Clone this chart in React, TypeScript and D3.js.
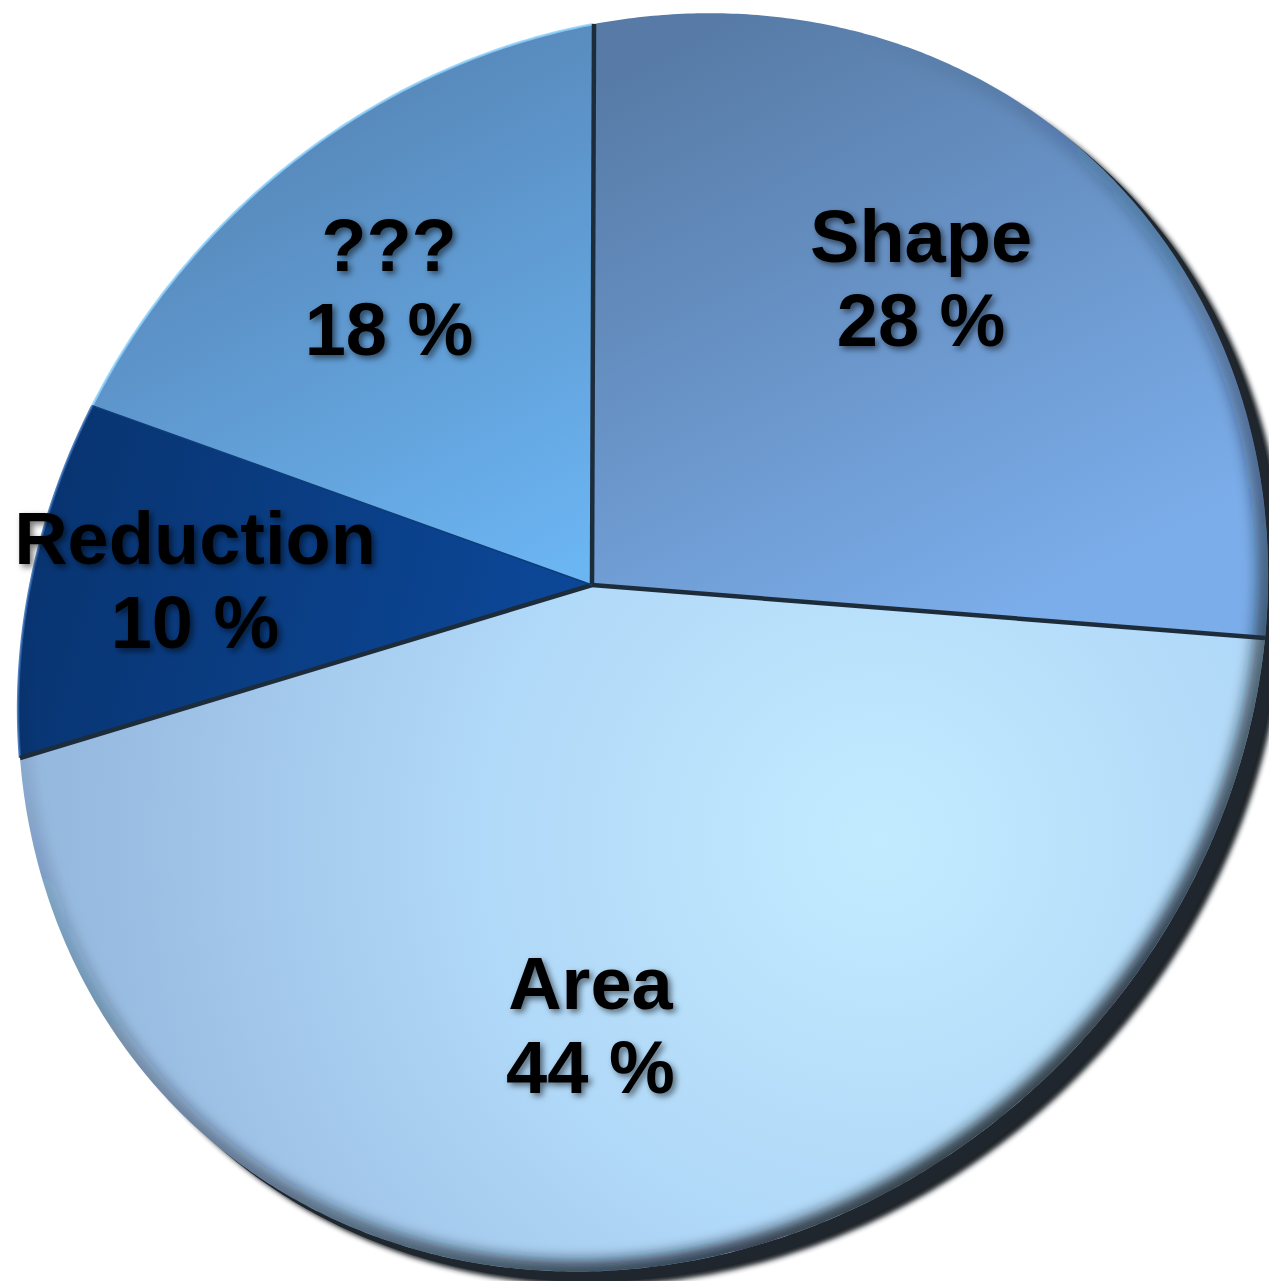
import React from 'react';
import * as d3 from 'd3';

// ---- data ----
const categories = ['Shape', 'Area', 'Reduction', '???'];
const values = [28, 44, 10, 18];
const percentLabels = ['28 %', '44 %', '10 %', '18 %'];

// ---- layout ----
const W = 1269;
const H = 1281;
// where key points of the tilted disc land on the page (perspective anchors)
const PAGE_CENTER: [number, number] = [592, 585];
const PAGE_TOP: [number, number] = [594, 24];
const PAGE_B1: [number, number] = [1265, 638]; // end of first slice
const PAGE_B2: [number, number] = [20, 758]; // end of second slice
const LABEL_RADII = [0.69, 0.664, 0.69, 0.67];
const FONT_SIZE = 74;

function solveHomography(src: [number, number][], dst: [number, number][]) {
  const A: number[][] = [];
  const b: number[] = [];
  for (let i = 0; i < 4; i++) {
    const [x, y] = src[i];
    const [u, v] = dst[i];
    A.push([x, y, 1, 0, 0, 0, -x * u, -y * u]);
    b.push(u);
    A.push([0, 0, 0, x, y, 1, -x * v, -y * v]);
    b.push(v);
  }
  const n = 8;
  for (let c = 0; c < n; c++) {
    let p = c;
    for (let r = c + 1; r < n; r++) if (Math.abs(A[r][c]) > Math.abs(A[p][c])) p = r;
    [A[c], A[p]] = [A[p], A[c]];
    [b[c], b[p]] = [b[p], b[c]];
    for (let r = 0; r < n; r++) {
      if (r === c) continue;
      const f = A[r][c] / A[c][c];
      for (let k = c; k < n; k++) A[r][k] -= f * A[c][k];
      b[r] -= f * b[c];
    }
  }
  const h = b.map((v, i) => v / A[i][i]);
  return (x: number, y: number): [number, number] => {
    const w = h[6] * x + h[7] * y + 1;
    return [(h[0] * x + h[1] * y + h[2]) / w, (h[3] * x + h[4] * y + h[5]) / w];
  };
}

const unit = (a: number, r = 1): [number, number] => [Math.sin(a) * r, -Math.cos(a) * r];

const fills = ['url(#gShape)', 'url(#gArea)', 'url(#gRed)', 'url(#gQ)'];
const edgeColors = ['none', 'none', '#2a63ad', '#8ad0fb'];

export default function App() {
  const arcs = d3.pie<number>().sort(null).startAngle(0).endAngle(2 * Math.PI)(values);

  const proj = solveHomography(
    [[0, 0], unit(arcs[0].startAngle), unit(arcs[0].endAngle), unit(arcs[1].endAngle)],
    [PAGE_CENTER, PAGE_TOP, PAGE_B1, PAGE_B2]
  );
  const P = (a: number, r = 1) => {
    const [x, y] = unit(a, r);
    return proj(x, y);
  };

  const line = d3.line<[number, number]>();
  const step = Math.PI / 360;

  const arcPts = (a0: number, a1: number) => {
    const n = Math.max(2, Math.ceil((a1 - a0) / step));
    return d3.range(0, n + 1).map((i) => P(a0 + ((a1 - a0) * i) / n));
  };
  const slicePath = (a0: number, a1: number) => line([proj(0, 0), ...arcPts(a0, a1)]) + 'Z';
  const circlePath = line(arcPts(0, 2 * Math.PI)) + 'Z';

  return (
    <svg width={W} height={H} style={{ position: 'absolute', left: 0, top: 0, background: '#fff' }}>
      <defs>
        <linearGradient id="gShape" gradientUnits="userSpaceOnUse" x1={700} y1={30} x2={1000} y2={620}>
          <stop offset="0" stopColor="#577ba6" />
          <stop offset="1" stopColor="#7badea" />
        </linearGradient>
        <linearGradient id="gQ" gradientUnits="userSpaceOnUse" x1={300} y1={80} x2={560} y2={570}>
          <stop offset="0" stopColor="#5685b6" />
          <stop offset="1" stopColor="#6bb5f3" />
        </linearGradient>
        <linearGradient id="gRed" gradientUnits="userSpaceOnUse" x1={30} y1={450} x2={560} y2={600}>
          <stop offset="0" stopColor="#08336f" />
          <stop offset="1" stopColor="#0c4797" />
        </linearGradient>
        <radialGradient id="gArea" gradientUnits="userSpaceOnUse" cx={880} cy={840} r={820}>
          <stop offset="0" stopColor="#c3ebff" />
          <stop offset="0.5" stopColor="#b0d8f8" />
          <stop offset="1" stopColor="#96b9df" />
        </radialGradient>
        <linearGradient id="edgeGrad" gradientUnits="userSpaceOnUse" x1={550} y1={250} x2={1150} y2={1100}>
          <stop offset="0" stopColor="#141c25" stopOpacity="0" />
          <stop offset="0.45" stopColor="#141c25" stopOpacity="0.35" />
          <stop offset="1" stopColor="#141c25" stopOpacity="0.95" />
        </linearGradient>
        <filter id="blur3" x="-10%" y="-10%" width="120%" height="120%">
          <feGaussianBlur stdDeviation="2.5" />
        </filter>
        <filter id="blur6" x="-10%" y="-10%" width="120%" height="120%">
          <feGaussianBlur stdDeviation="7" />
        </filter>
        <filter id="tshadow" x="-20%" y="-20%" width="140%" height="140%">
          <feDropShadow dx="3" dy="3" stdDeviation="3" floodColor="#000" floodOpacity="0.55" />
        </filter>
        <clipPath id="faceClip">
          <path d={circlePath} />
        </clipPath>
      </defs>

      {/* disc thickness */}
      <path d={circlePath} transform="translate(17,14)" fill="#1b2128" filter="url(#blur3)" />
      <path d={circlePath} transform="translate(12,10)" fill="#1f262e" />

      {/* slices */}
      {arcs.map((a, i) => (
        <path key={categories[i]} d={slicePath(a.startAngle, a.endAngle)} fill={fills[i]} />
      ))}

      {/* inner rim shading */}
      <g clipPath="url(#faceClip)">
        <path d={circlePath} fill="none" stroke="url(#edgeGrad)" strokeWidth={22} filter="url(#blur6)" />
      </g>

      {/* outer edge highlights */}
      {arcs.map((a, i) =>
        edgeColors[i] === 'none' ? null : (
          <path key={'e' + i} d={line(arcPts(a.startAngle, a.endAngle)) || ''} fill="none" stroke={edgeColors[i]} strokeWidth={2.5} opacity={0.8} />
        )
      )}

      {/* slice borders */}
      {arcs.map((a, i) => {
        const [x0, y0] = proj(0, 0);
        const [x1, y1] = P(a.startAngle);
        return (
          <line
            key={'b' + i}
            x1={x0}
            y1={y0}
            x2={x1}
            y2={y1}
            stroke={i === 3 ? '#0e3d78' : '#1d2c3b'}
            strokeWidth={i === 3 ? 1.5 : 4.5}
          />
        );
      })}

      {/* labels */}
      {arcs.map((a, i) => {
        const mid = (a.startAngle + a.endAngle) / 2;
        const [cx, cy] = P(mid, LABEL_RADII[i]);
        return (
          <g key={'l' + i} filter="url(#tshadow)" fontFamily="'Liberation Sans', Arial, sans-serif" fontWeight="bold" fontSize={FONT_SIZE} textAnchor="middle" fill="#000">
            <text x={cx} y={cy - 15}>{categories[i]}</text>
            <text x={cx} y={cy + 69}>{percentLabels[i]}</text>
          </g>
        );
      })}
    </svg>
  );
}
